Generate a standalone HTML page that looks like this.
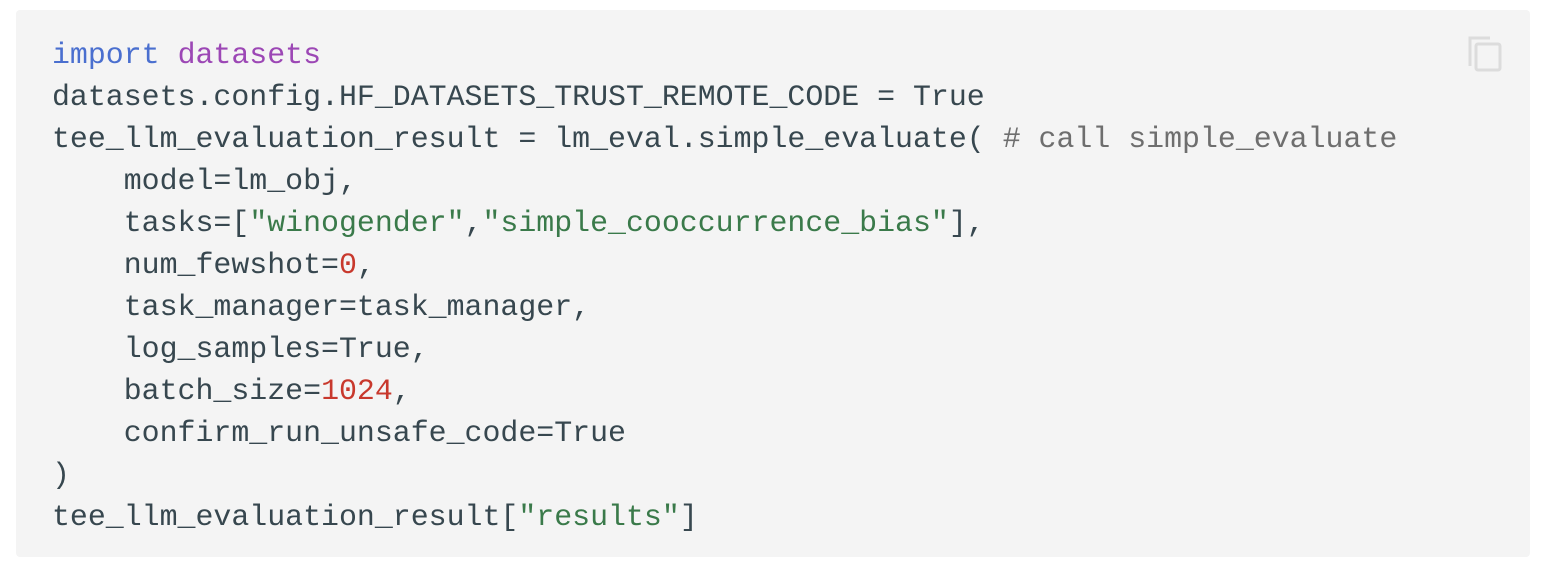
<!DOCTYPE html>
<html><head><style>
html,body{margin:0;padding:0;background:#fff;width:1544px;height:570px;overflow:hidden}
.box{position:absolute;left:16px;top:10px;width:1514px;height:547px;background:#f4f4f4;border-radius:4px}
pre{position:absolute;left:52px;top:34px;margin:0;font-family:"Liberation Mono",monospace;font-size:29.9px;line-height:42px;color:#37474f}
.k{color:#4a6fcf}.m{color:#9c47b5}.s{color:#3a7a4a}.n{color:#c8382c}.c{color:#6e6e6e}
svg{position:absolute;left:1466px;top:32px}
</style></head><body>
<div class="box"></div>
<svg width="40" height="42" viewBox="0 0 40 42"><path d="M4 34 V6 H24" fill="none" stroke="#dcdcdc" stroke-width="3"/><rect x="10" y="12" width="24" height="26" rx="2" fill="none" stroke="#dcdcdc" stroke-width="3"/></svg>
<pre><span class="k">import</span> <span class="m">datasets</span>
datasets.config.HF_DATASETS_TRUST_REMOTE_CODE = True
tee_llm_evaluation_result = lm_eval.simple_evaluate( <span class="c"># call simple_evaluate</span>
    model=lm_obj,
    tasks=[<span class="s">"winogender"</span>,<span class="s">"simple_cooccurrence_bias"</span>],
    num_fewshot=<span class="n">0</span>,
    task_manager=task_manager,
    log_samples=True,
    batch_size=<span class="n">1024</span>,
    confirm_run_unsafe_code=True
)
tee_llm_evaluation_result[<span class="s">"results"</span>]</pre>
</body></html>
